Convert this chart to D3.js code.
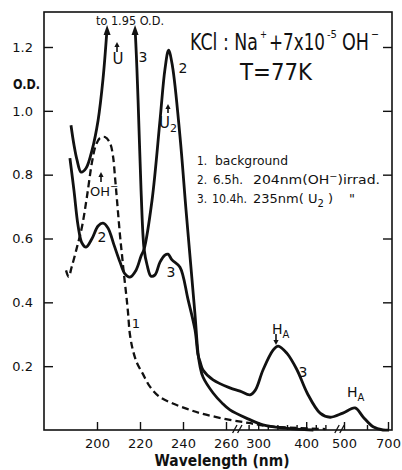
<!DOCTYPE html>
<html>
<head>
<meta charset="utf-8">
<script src="https://cdn.jsdelivr.net/npm/d3@7"></script>
<style>
body{margin:0;background:#fff;}
svg{display:block;font-family:"DejaVu Sans",sans-serif;}
</style>
</head>
<body>
<svg id="chart" width="402" height="470"></svg>
<script>
// [wavelength nm, O.D.]
var curve1 = [[185.6,0.50],[186.8,0.48],[188.2,0.51],[190.7,0.573],[193,0.636],[195.3,0.73],[197.7,0.84],
	[199.5,0.893],[201.4,0.915],[203.7,0.918],[206,0.90],[207.4,0.86],[208.4,0.79],[209.3,0.72],[210.7,0.61],
	[211.6,0.55],[212.5,0.49],[213.5,0.43],[214.4,0.37],[215.3,0.30],[216.7,0.25],[218.6,0.21],[221.4,0.175],
	[224.7,0.135],[229.3,0.103],[235.3,0.083],[241.9,0.066],[247.9,0.053],[260,0.034],[280,0.022],[320,0.012],
	[385,0.006],[440,0.003]];
var curve2 = [[187.4,0.852],[189.3,0.75],[191.2,0.64],[193,0.586],[194.9,0.573],[197.7,0.60],[200.5,0.639],
	[202.8,0.648],[205.1,0.633],[207.9,0.58],[210.7,0.526],[213,0.489],[215.3,0.479],[218.1,0.50],[220.5,0.545],
	[221.9,0.567],[225.6,0.72],[229.3,0.97],[231.6,1.13],[233.3,1.19],[235.1,1.14],[238.6,0.92],[241.4,0.69],
	[244.2,0.47],[245.6,0.36],[247,0.24],[247.9,0.20],[249.3,0.166],[254,0.116],[258.1,0.085],[263.5,0.063],
	[280,0.034],[310,0.016],[356,0.006],[415,0.0]];
var curve3 = [[187.9,0.955],[189.3,0.893],[190.7,0.846],[192.6,0.808],[194.9,0.82],[197.7,0.877],[200.5,0.97],
	[202.8,1.10],[204.7,1.26],[211,1.95],[217.7,1.26],[219.1,1.034],[220.5,0.75],[221.9,0.567],[223.3,0.517],
	[225.1,0.482],[227,0.486],[229.3,0.526],[231.6,0.548],[233,0.551],[234.9,0.533],[238.6,0.51],[242.3,0.41],
	[245.6,0.313],[247,0.235],[247.9,0.215],[249.3,0.188],[254,0.157],[263.5,0.132],[272.4,0.122],[283,0.11],
	[294,0.125],[310,0.188],[331,0.25],[341.6,0.263],[360,0.24],[381,0.188],[402,0.116],[429,0.053],[450,0.04],
	[495,0.053],[548,0.069],[583,0.041],[629,0.01],[676,0.0],[705,0.0]];
var offScaleOD = 1.26;   // where curve 3 leaves the frame ("to 1.95 O.D.")

var majorTicks = [200,220,240,260,300,400,500,700];
var minorTicks = [280,320,340,360,380,420,440,600];
var odTicks = [0.2,0.4,0.6,0.8,1.0,1.2];
var axisBreaks = [270,480];

var svg = d3.select("#chart");
var ink = "#111";

// broken wavelength axis: three linear pieces
var x = d3.scaleLinear()
	.domain([175.35,260,280,460,500,600,700,720])
	.range([44,226,248.6,335,344,367,388,392]);
var y = d3.scaleLinear().domain([0,1.2]).range([430,47]);

// frame
svg.append("rect").attr("x",44).attr("y",12).attr("width",348).attr("height",418)
	.attr("fill","none").attr("stroke",ink).attr("stroke-width",1.6);

function styleAxis(g){
	g.select(".domain").remove();
	g.selectAll(".tick line").attr("stroke",ink).attr("stroke-width",1.4);
	g.selectAll("text").attr("fill",ink).attr("font-size",13)
		.attr("font-family","'DejaVu Sans',sans-serif");
}

svg.append("g").attr("transform","translate(0,430)")
	.call(d3.axisBottom(x).tickValues(majorTicks).tickSizeInner(-8).tickSizeOuter(0)
		.tickPadding(9).tickFormat(d3.format("d")))
	.call(styleAxis);
svg.append("g").attr("transform","translate(0,430)")
	.call(d3.axisBottom(x).tickValues(minorTicks).tickSizeInner(-5).tickSizeOuter(0).tickFormat(""))
	.call(styleAxis);
svg.append("g").attr("transform","translate(44,0)")
	.call(d3.axisLeft(y).tickValues(odTicks).tickSizeInner(-9).tickSizeOuter(0)
		.tickPadding(11).tickFormat(d3.format(".1f")))
	.call(styleAxis);
svg.append("g").attr("transform","translate(392,0)")
	.call(d3.axisRight(y).tickValues(odTicks).tickSizeInner(-9).tickSizeOuter(0).tickFormat(""))
	.call(styleAxis);

// axis break marks
axisBreaks.forEach(function(b){
	var bx = x(b);
	[-2.5,2.5].forEach(function(o){
		svg.append("line").attr("x1",bx+o-2.2).attr("y1",433).attr("x2",bx+o+2.2).attr("y2",425)
			.attr("stroke",ink).attr("stroke-width",1.3);
	});
});

// curves
svg.append("clipPath").attr("id","plotclip").append("rect")
	.attr("x",44).attr("y",33).attr("width",348).attr("height",399);

var line = d3.line().x(function(d){return x(d[0]);}).y(function(d){return y(d[1]);})
	.curve(d3.curveCatmullRom.alpha(0.5));

var plot = svg.append("g").attr("clip-path","url(#plotclip)");
plot.append("path").datum(curve1).attr("d",line).attr("fill","none")
	.attr("stroke",ink).attr("stroke-width",2.3).attr("stroke-dasharray","7,4");
plot.append("path").datum(curve2).attr("d",line).attr("fill","none")
	.attr("stroke",ink).attr("stroke-width",2.8).attr("stroke-linejoin","round");
plot.append("path").datum(curve3).attr("d",line).attr("fill","none")
	.attr("stroke",ink).attr("stroke-width",2.8).attr("stroke-linejoin","round");

// arrowheads where curve 3 runs off scale
curve3.filter(function(d){return d[1]===offScaleOD;}).forEach(function(d){
	var px = x(d[0]);
	svg.append("path").attr("d","M"+(px-3.5)+",35L"+px+",25L"+(px+3.5)+",35Z").attr("fill",ink);
});

// small label arrows
function arrow(px,yTail,yTip){
	var dir = yTip<yTail ? 1 : -1;
	svg.append("line").attr("x1",px).attr("y1",yTail).attr("x2",px).attr("y2",yTip+dir*3)
		.attr("stroke",ink).attr("stroke-width",1.6);
	svg.append("path").attr("d","M"+(px-2.6)+","+(yTip+dir*5)+"L"+px+","+yTip+"L"+(px+2.6)+","+(yTip+dir*5)+"Z")
		.attr("fill",ink);
}
function label(txt,px,py,size,anchor){
	return svg.append("text").attr("x",px).attr("y",py).attr("font-size",size)
		.attr("text-anchor",anchor||"middle").attr("fill",ink).text(txt);
}
function squeeze(sel,w){
	return sel.attr("textLength",w).attr("lengthAdjust","spacingAndGlyphs");
}

squeeze(label("to 1.95 O.D.",96,25,13,"start"),68);
squeeze(label("O.D.",13,89,14,"start").attr("font-weight","bold"),27);

arrow(117,52,42);
label("U",118,64,15);
label("3",143,62,14);
label("2",183,73,14);

arrow(168,113,104);
var u2 = label("U",168,128,15);
u2.append("tspan").attr("font-size",11).attr("dy",4).text("2");

arrow(101,182,172);
var oh = label("OH",90,196,13,"start");
oh.append("tspan").attr("font-size",10).attr("dy",-6).text("\u2212");

label("2",102,242,14);
label("3",171,277,14);
label("1",136,328,13);

arrow(276,334,345);
var ha1 = label("H",272,334,14,"start");
ha1.append("tspan").attr("font-size",10).attr("dy",4).text("A");
label("3",303,377,14);
var ha2 = label("H",347,397,14,"start");
ha2.append("tspan").attr("font-size",10).attr("dy",4).text("A");

// title, in pieces so the raised charges sit where they do in the figure
squeeze(label("KCl : Na",190,50,23,"start"),68);
squeeze(label("+",260,38,11,"start"),7);
squeeze(label("+7x10",269,50,23,"start"),56);
squeeze(label("-5",327,38,10,"start"),10);
squeeze(label("OH",342,50,23,"start"),27);
squeeze(label("\u2212",371,38,11,"start"),8);
squeeze(label("T=77K",240,80,23,"start"),72);

// legend
squeeze(label("1.",197,165,13,"start"),10);
squeeze(label("background",215,165,13,"start"),73);
squeeze(label("2.",197,184,13,"start"),10);
squeeze(label("6.5h.",213,184,13,"start"),30);
var l2 = squeeze(label("204nm(OH",253,184,13,"start"),127);
l2.append("tspan").attr("font-size",9).attr("dy",-5).text("\u2212");
l2.append("tspan").attr("dy",5).text(")irrad.");
squeeze(label("3.",197,203,13,"start"),10);
squeeze(label("10.4h.",212,203,13,"start"),35);
var l3 = label("235nm( U",253,203,13,"start");
l3.append("tspan").attr("font-size",10).attr("dy",4).text("2");
l3.append("tspan").attr("dy",-4).text(" )");
label("\"",352,203,13,"middle");

squeeze(label("Wavelength (nm)",222,466,15).attr("font-weight","bold"),135);
</script>
</body>
</html>
